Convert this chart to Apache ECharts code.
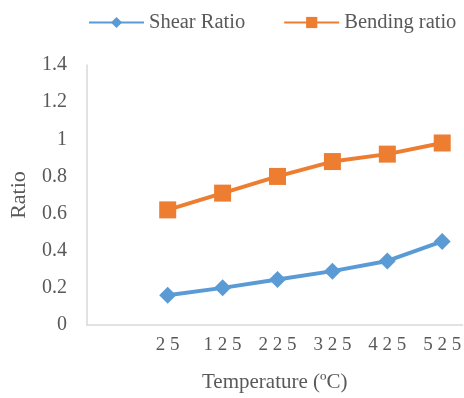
<!DOCTYPE html>
<html>
<head>
<meta charset="utf-8">
<script src="https://cdn.jsdelivr.net/npm/echarts@6/dist/echarts.min.js"></script>
<style>
  html, body { margin: 0; padding: 0; background: #fff; }
  #main { width: 464px; height: 398px; }
</style>
</head>
<body>
<div id="main"></div>
<script>
const temps = [25, 125, 225, 325, 425, 525]
const shearRatio = [0.16, 0.20, 0.245, 0.29, 0.345, 0.45]
const bendingRatio = [0.62, 0.71, 0.80, 0.88, 0.92, 0.98]
const yTicks = [0, 0.2, 0.4, 0.6, 0.8, 1, 1.2, 1.4]

const font = '"Liberation Serif", "Times New Roman", serif'
const myChart = echarts.init(document.getElementById('main'))
const option = {
  textStyle: { fontFamily: font },
  legend: {
    top: 12,
    left: 88,
    width: 400,
    padding: 0,
    itemGap: 38,
    itemWidth: 55,
    itemHeight: 14,
    textStyle: { fontFamily: font, fontSize: 20.5, color: '#595959' },
    data: ['Shear Ratio', 'Bending ratio']
  },
  grid: {
    left: 83,
    right: 0,
    top: 65,
    bottom: 61,
    containLabel: false
  },
  xAxis: {
    // excel category slots, spaced 100 per slot, plot runs off the right edge
    type: 'value',
    min: -122,
    max: 562,
    name: 'Temperature (ºC)',
    nameLocation: 'middle',
    nameGap: 47,
    nameTextStyle: { fontFamily: font, fontSize: 21, color: '#595959' },
    axisLine: { onZero: false, lineStyle: { color: '#d9d9d9', width: 1.5 } },
    axisTick: { show: false },
    splitLine: { show: false },
    axisLabel: {
      customValues: temps,
      fontFamily: font,
      fontSize: 19,
      color: '#595959',
      margin: 11,
      formatter: v => String(v).split('').join(' ')
    }
  },
  yAxis: {
    type: 'value',
    min: yTicks[0],
    max: yTicks[yTicks.length - 1],
    interval: 0.2,
    name: 'Ratio',
    nameLocation: 'middle',
    nameGap: 57,
    nameTextStyle: { fontFamily: font, fontSize: 22, color: '#595959' },
    axisLine: { show: true, onZero: false, lineStyle: { color: '#d9d9d9', width: 1.5 } },
    axisTick: { show: false },
    splitLine: { show: false },
    axisLabel: {
      fontFamily: font,
      fontSize: 20,
      color: '#595959',
      margin: 20,
      formatter: v => String(Math.round(v * 10) / 10)
    }
  },
  series: [
    {
      name: 'Shear Ratio',
      type: 'line',
      data: temps.map((t, i) => [t, shearRatio[i]]),
      color: '#5b9bd5',
      symbol: 'diamond',
      symbolSize: 17,
      lineStyle: { width: 4 }
    },
    {
      name: 'Bending ratio',
      type: 'line',
      data: temps.map((t, i) => [t, bendingRatio[i]]),
      color: '#ed7d31',
      symbol: 'rect',
      symbolSize: 17,
      lineStyle: { width: 4 }
    }
  ]
}
myChart.setOption(option)
</script>
</body>
</html>
